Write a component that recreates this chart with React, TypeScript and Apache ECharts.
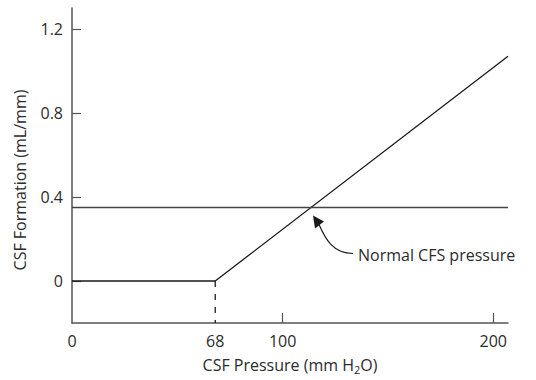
import React, { useEffect, useRef } from "react";
import * as echarts from "echarts";

// Data
const formationPressure = [0, 68, 207];
const formationRate = [0, 0, 1.07];
const normalFormation = 0.35;
const lineExtentX = [0, 207];
const thresholdPressure = 68;
const xLabelValues = [0, 68, 100, 200];
const xTickValues = [100, 200];
const yLabelValues = [0, 0.4, 0.8, 1.2];
const yTickValues = [0, 0.4, 0.8, 1.2];
const xRange = [0, 207];
const yRange = [-0.2, 1.3];

const FONT = "'Open Sans', Lato, sans-serif";
const FS = 16;
const TEXT = "#2b2b2b";
const AXIS = "#555555";

export default function App() {
  const ref = useRef<HTMLDivElement>(null);
  useEffect(() => {
    document.body.style.margin = "0";
    if (!ref.current) return;
    const chart = echarts.init(ref.current, undefined, { renderer: "svg" });
    chart.setOption({
      animation: false,
      textStyle: { fontFamily: FONT },
      grid: { left: 72, right: 28, top: 8, bottom: 55 },
      xAxis: {
        type: "value",
        min: xRange[0],
        max: xRange[1],
        name: "CSF Pressure (mm H{sub|2}O)",
        nameLocation: "middle",
        nameGap: 32,
        nameTextStyle: {
          fontSize: FS,
          color: TEXT,
          fontFamily: FONT,
          rich: { sub: { fontSize: 11, color: TEXT, fontFamily: FONT, padding: [9, 0, 0, 0] } },
        },
        axisLine: { onZero: false, lineStyle: { color: AXIS, width: 1.5 } },
        axisTick: { show: true, inside: true, length: 10, customValues: xTickValues, lineStyle: { color: AXIS, width: 1.2 } },
        axisLabel: { customValues: xLabelValues, margin: 10, fontSize: FS, color: TEXT, fontFamily: FONT },
        splitLine: { show: false },
      },
      yAxis: {
        type: "value",
        min: yRange[0],
        max: yRange[1],
        axisLine: { onZero: false, lineStyle: { color: AXIS, width: 1.5 } },
        axisTick: { show: true, inside: true, length: 9, customValues: yTickValues, lineStyle: { color: AXIS, width: 1.2 } },
        axisLabel: { customValues: yLabelValues, margin: 9, fontSize: FS, color: TEXT, fontFamily: FONT },
        splitLine: { show: false },
      },
      series: [
        {
          type: "line",
          data: formationPressure.map((x, i) => [x, formationRate[i]]),
          symbol: "none",
          lineStyle: { color: "#1a1a1a", width: 1.3 },
        },
        {
          type: "line",
          data: lineExtentX.map((x) => [x, normalFormation]),
          symbol: "none",
          lineStyle: { color: "#444444", width: 1.3 },
        },
        {
          type: "line",
          data: [
            [thresholdPressure, 0],
            [thresholdPressure, yRange[0]],
          ],
          symbol: "none",
          lineStyle: { color: "#1a1a1a", width: 1.3, type: [6, 7] },
        },
      ],
    });

    // intersection of rising line with normal formation level
    const slope = (formationRate[2] - formationRate[1]) / (formationPressure[2] - formationPressure[1]);
    const ix = formationPressure[1] + (normalFormation - formationRate[1]) / slope;
    const p = chart.convertToPixel({ gridIndex: 0 }, [ix, normalFormation]) as number[];
    const [px, py] = p;
    const tipX = px + 2, tipY = py + 8;
    const baseX = px + 9, baseY = py + 18;
    chart.setOption({
      graphic: [
        {
          type: "text",
          x: 20,
          y: 180,
          rotation: Math.PI / 2,
          style: { text: "CSF Formation (mL/mm)", fontSize: FS, fill: TEXT, fontFamily: FONT, align: "center", verticalAlign: "middle" },
        },
        {
          type: "bezierCurve",
          shape: { x1: baseX - 1, y1: baseY - 1, cpx1: px + 13, cpy1: py + 28, cpx2: px + 20, cpy2: py + 46, x2: px + 42, y2: py + 46 },
          style: { stroke: "#1a1a1a", lineWidth: 1.2, fill: null },
        },
        {
          type: "polygon",
          shape: { points: [[tipX, tipY], [px + 4, py + 21], [px + 13, py + 14]] },
          style: { fill: "#1a1a1a" },
        },
        {
          type: "text",
          x: px + 47,
          y: py + 47,
          style: { text: "Normal CFS pressure", fontSize: FS, fill: TEXT, fontFamily: FONT, verticalAlign: "middle" },
        },
      ],
    });
    return () => chart.dispose();
  }, []);
  return <div ref={ref} style={{ width: 536, height: 380 }} />;
}
